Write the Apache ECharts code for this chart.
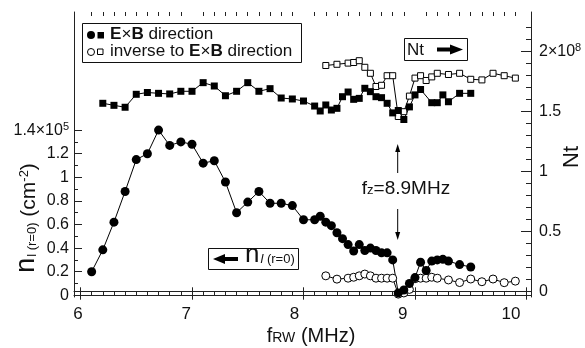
<!DOCTYPE html>
<html>
<head>
<meta charset="utf-8">
<script src="https://cdn.jsdelivr.net/npm/echarts@6/dist/echarts.min.js"></script>
<style>
  html, body { margin: 0; padding: 0; background: #fff; }
  #chart { width: 585px; height: 348px; }
</style>
</head>
<body>
<div id="chart"></div>
<script>
// line density n_l(r=0), x10^5 cm^-2, E x B direction (filled circles)
const FREQ_N_EXB = [6.1, 6.2, 6.3, 6.4, 6.5, 6.6, 6.7, 6.8, 6.9, 7.0, 7.1, 7.2, 7.3, 7.4, 7.5, 7.6, 7.7, 7.8, 7.9,
  8.0, 8.1, 8.15, 8.2, 8.25, 8.3, 8.35, 8.4, 8.45, 8.5, 8.55, 8.6, 8.65, 8.7, 8.75, 8.8, 8.85, 8.9, 8.95,
  9.0, 9.05, 9.1, 9.15, 9.2, 9.25, 9.3, 9.4, 9.5];
const N_EXB = [0.20, 0.385, 0.62, 0.88, 1.15, 1.20, 1.40, 1.27, 1.30, 1.28, 1.12, 1.14, 0.96, 0.70, 0.79, 0.88, 0.78, 0.78, 0.76,
  0.64, 0.64, 0.67, 0.62, 0.59, 0.53, 0.48, 0.43, 0.375, 0.43, 0.38, 0.40, 0.38, 0.36, 0.36, 0.30, 0.02, 0.045, 0.10,
  0.15, 0.28, 0.21, 0.29, 0.30, 0.305, 0.29, 0.26, 0.24];

// inverse direction (open circles)
const FREQ_N_INV = [8.2, 8.3, 8.4, 8.45, 8.5, 8.55, 8.6, 8.65, 8.7, 8.75, 8.8, 8.85, 8.9, 8.95,
  9.0, 9.05, 9.1, 9.15, 9.2, 9.3, 9.4, 9.5, 9.6, 9.7, 9.8, 9.9];
const N_INV = [0.165, 0.137, 0.145, 0.153, 0.165, 0.18, 0.165, 0.145, 0.145, 0.145, 0.145, 0.01, 0.02, 0.05,
  0.14, 0.145, 0.145, 0.153, 0.145, 0.13, 0.108, 0.138, 0.115, 0.138, 0.107, 0.12];

// total number Nt, x10^8, E x B direction (filled squares)
const FREQ_NT_EXB = [6.2, 6.3, 6.4, 6.5, 6.6, 6.7, 6.8, 6.9, 7.0, 7.1, 7.2, 7.3, 7.4, 7.5, 7.6, 7.7, 7.8, 7.9,
  8.0, 8.1, 8.15, 8.2, 8.25, 8.3, 8.35, 8.4, 8.45, 8.5, 8.55, 8.6, 8.65, 8.7, 8.75, 8.8, 8.85, 8.9, 8.95,
  9.0, 9.05, 9.15, 9.2, 9.25, 9.3, 9.4, 9.5];
const NT_EXB = [1.57, 1.553, 1.537, 1.645, 1.66, 1.653, 1.648, 1.67, 1.67, 1.742, 1.714, 1.633, 1.67, 1.742, 1.67, 1.692, 1.614, 1.606,
  1.589, 1.547, 1.506, 1.556, 1.514, 1.528, 1.625, 1.664, 1.603, 1.611, 1.695, 1.667, 1.625, 1.617, 1.57, 1.49, 1.51, 1.435, 1.54,
  1.64, 1.685, 1.575, 1.575, 1.64, 1.583, 1.653, 1.653];

// inverse direction (open squares)
const FREQ_NT_INV = [8.2, 8.3, 8.4, 8.45, 8.5, 8.55, 8.6, 8.65, 8.7, 8.75, 8.8, 8.85, 8.9, 8.95,
  9.0, 9.05, 9.1, 9.15, 9.2, 9.3, 9.4, 9.5, 9.6, 9.7, 9.8, 9.9];
const NT_INV = [1.885, 1.895, 1.905, 1.91, 1.925, 1.87, 1.82, 1.71, 1.72, 1.80, 1.80, 1.46, 1.50, 1.63,
  1.78, 1.80, 1.76, 1.79, 1.82, 1.81, 1.82, 1.77, 1.765, 1.82, 1.80, 1.78];

// ticks and labels
const X_MAJOR = [6, 7, 8, 9, 10];
const X_LABELS = ['6', '7', '8', '9', '10'];
const NL_MAJOR = [0, 0.2, 0.4, 0.6, 0.8, 1, 1.2, 1.4];
const NL_LABELS = ['0', '0.2', '0.4', '0.6', '0.8', '1', '1.2', '1.4×10^5'];
const NT_MAJOR = [0, 0.5, 1, 1.5, 2];
const NT_LABELS = ['0', '0.5', '1', '1.5', '2×10^8'];

const X_MINOR = [];
for (let i = 61; i < 100; i++) if (i % 10) X_MINOR.push(i / 10);
const NL_MINOR = [];
for (let i = 1; i < 14; i += 2) NL_MINOR.push(i / 10);
const NT_MINOR = [];
for (let i = 1; i <= 22; i++) if (i % 5) NT_MINOR.push(i / 10);

const FONT = '"Liberation Sans", Arial, sans-serif';
const X_MIN = 5.9417, X_MAX = 10.0404;
const XL_MIN = 5.963, XL_MAX = 10.185;
const YL_MIN = -0.0144, YL_MAX = 2.4008;
const YR_MIN = -0.0442, YR_MAX = 2.3308;

const pairs = (xs, ys) => xs.map((x, i) => [x, ys[i]]);

function labelFor(values, labels) {
  return v => {
    const i = values.findIndex(t => Math.abs(t - v) < 1e-6);
    const s = i < 0 ? '' : labels[i];
    return '{t|' + s.replace(/\^(\d+)$/, '}{sup|$1') + '}';
  };
}

function xAxis(position, min, max, opts) {
  return Object.assign({
    type: 'value', position, min, max,
    axisLine: { show: false },
    axisTick: { show: false },
    axisLabel: { show: false },
    splitLine: { show: false }
  }, opts);
}
function yAxis(position, min, max, opts) {
  return Object.assign({
    type: 'value', position, min, max,
    axisLine: { show: false },
    axisTick: { show: false },
    axisLabel: { show: false },
    splitLine: { show: false }
  }, opts);
}

const AXIS_LINE = { show: true, lineStyle: { color: '#222', width: 1 } };
const tick = (len, values) => ({
  show: true, inside: true, length: len, customValues: values,
  lineStyle: { color: '#222', width: 1 }
});
const richLabel = {
  t: { fontFamily: FONT, fontSize: 16, color: '#111', lineHeight: 18 },
  sup: { fontFamily: FONT, fontSize: 11, color: '#111', verticalAlign: 'top', lineHeight: 18, padding: [0, 0, 6, 0] }
};

const chart = echarts.init(document.getElementById('chart'));

const option = {
  animation: false,
  grid: { left: 74, right: 54, top: 12, bottom: 51, containLabel: false },
  xAxis: [
    xAxis('bottom', X_MIN, X_MAX, { axisLine: AXIS_LINE, axisTick: tick(8, X_MAJOR) }),
    xAxis('bottom', X_MIN, X_MAX, { axisTick: tick(4, X_MINOR) }),
    xAxis('bottom', XL_MIN, XL_MAX, {
      axisLabel: {
        show: true, customValues: X_MAJOR, margin: 9,
        fontFamily: FONT, fontSize: 17, color: '#111',
        formatter: v => X_LABELS[X_MAJOR.indexOf(Math.round(v))]
      }
    }),
    xAxis('top', X_MIN, X_MAX, { axisLine: AXIS_LINE, axisTick: tick(8, X_MAJOR) }),
    xAxis('top', X_MIN, X_MAX, { axisTick: tick(4, X_MINOR) })
  ],
  yAxis: [
    yAxis('left', YL_MIN, YL_MAX, {
      axisLine: AXIS_LINE, axisTick: tick(8, NL_MAJOR),
      axisLabel: {
        show: true, customValues: NL_MAJOR, margin: 5,
        formatter: labelFor(NL_MAJOR, NL_LABELS), rich: richLabel
      }
    }),
    yAxis('left', YL_MIN, YL_MAX, { axisTick: tick(4, NL_MINOR) }),
    yAxis('right', YR_MIN, YR_MAX, {
      axisLine: AXIS_LINE, axisTick: tick(10, NT_MAJOR),
      axisLabel: {
        show: true, customValues: NT_MAJOR, margin: 8,
        formatter: labelFor(NT_MAJOR, NT_LABELS), rich: richLabel
      }
    }),
    yAxis('right', YR_MIN, YR_MAX, { axisTick: tick(5, NT_MINOR) })
  ],
  series: [
    {
      name: 'n inverse', type: 'line', xAxisIndex: 0, yAxisIndex: 0,
      data: pairs(FREQ_N_INV, N_INV), symbol: 'circle', symbolSize: 8, showAllSymbol: true,
      lineStyle: { color: '#000', width: 1 },
      itemStyle: { color: '#fff', borderColor: '#000', borderWidth: 1 }
    },
    {
      name: 'n ExB', type: 'line', xAxisIndex: 0, yAxisIndex: 0,
      data: pairs(FREQ_N_EXB, N_EXB), symbol: 'circle', symbolSize: 9, showAllSymbol: true,
      lineStyle: { color: '#000', width: 1 },
      itemStyle: { color: '#000' }
    },
    {
      name: 'Nt inverse', type: 'line', xAxisIndex: 0, yAxisIndex: 2,
      data: pairs(FREQ_NT_INV, NT_INV), symbol: 'rect', symbolSize: 6, showAllSymbol: true,
      lineStyle: { color: '#000', width: 1 },
      itemStyle: { color: '#fff', borderColor: '#000', borderWidth: 1 }
    },
    {
      name: 'Nt ExB', type: 'line', xAxisIndex: 0, yAxisIndex: 2,
      data: pairs(FREQ_NT_EXB, NT_EXB), symbol: 'rect', symbolSize: 7, showAllSymbol: true,
      lineStyle: { color: '#000', width: 1 },
      itemStyle: { color: '#000' }
    }
  ],
  graphic: [
    // legend box
    { type: 'rect', shape: { x: 82.5, y: 23.5, width: 219, height: 39 }, style: { fill: '#fff', stroke: '#111', lineWidth: 1 } },
    { type: 'circle', shape: { cx: 91, cy: 35, r: 4 }, style: { fill: '#000' } },
    { type: 'rect', shape: { x: 97.5, y: 32, width: 6.5, height: 6.5 }, style: { fill: '#000' } },
    { type: 'circle', shape: { cx: 91, cy: 52, r: 3.5 }, style: { fill: '#fff', stroke: '#000', lineWidth: 1 } },
    { type: 'rect', shape: { x: 97.5, y: 49, width: 5.5, height: 5.5 }, style: { fill: '#fff', stroke: '#000', lineWidth: 1 } },
    {
      type: 'text', x: 110, y: 35, scaleX: 1.07,
      style: {
        text: '{b|E}{n|×}{b|B}{n| direction}', verticalAlign: 'middle',
        rich: {
          b: { fontFamily: FONT, fontSize: 16, fontWeight: 'bold', fill: '#111' },
          n: { fontFamily: FONT, fontSize: 16, fill: '#111' }
        }
      }
    },
    {
      type: 'text', x: 110, y: 52, scaleX: 1.07,
      style: {
        text: '{n|inverse to }{b|E}{n|×}{b|B}{n| direction}', verticalAlign: 'middle',
        rich: {
          b: { fontFamily: FONT, fontSize: 16, fontWeight: 'bold', fill: '#111' },
          n: { fontFamily: FONT, fontSize: 16, fill: '#111' }
        }
      }
    },
    // Nt -> box
    { type: 'rect', shape: { x: 404.5, y: 38.5, width: 63, height: 22 }, style: { fill: '#fff', stroke: '#111', lineWidth: 1 } },
    { type: 'text', x: 407, y: 50, style: { text: 'Nt', font: '17px ' + FONT, fill: '#111', verticalAlign: 'middle' } },
    { type: 'rect', shape: { x: 437, y: 47.5, width: 15, height: 4 }, style: { fill: '#000' } },
    { type: 'polygon', shape: { points: [[450, 44.5], [463, 49.5], [450, 54.5]] }, style: { fill: '#000' } },
    // <- n box
    { type: 'rect', shape: { x: 208.5, y: 248.5, width: 90, height: 21 }, style: { fill: '#fff', stroke: '#111', lineWidth: 1 } },
    { type: 'polygon', shape: { points: [[213, 259], [225, 254], [225, 264]] }, style: { fill: '#000' } },
    { type: 'rect', shape: { x: 223, y: 257, width: 15, height: 4 }, style: { fill: '#000' } },
    {
      type: 'text', x: 245, y: 268,
      style: {
        text: '{n|n}{s|l}{p| (r=0)}', verticalAlign: 'bottom',
        rich: {
          n: { fontFamily: FONT, fontSize: 26, fill: '#111', verticalAlign: 'bottom' },
          s: { fontFamily: FONT, fontSize: 13, fontStyle: 'italic', fill: '#111', verticalAlign: 'bottom', padding: [0, 0, 2, 1] },
          p: { fontFamily: FONT, fontSize: 13, fill: '#111', verticalAlign: 'bottom', padding: [0, 0, 2, 0] }
        }
      }
    },
    // fz annotation
    { type: 'line', shape: { x1: 397.7, y1: 173, x2: 397.7, y2: 150 }, style: { stroke: '#000', lineWidth: 1 } },
    { type: 'polygon', shape: { points: [[395.2, 152], [397.7, 144], [400.2, 152]] }, style: { fill: '#000' } },
    { type: 'line', shape: { x1: 397.7, y1: 209, x2: 397.7, y2: 233 }, style: { stroke: '#000', lineWidth: 1 } },
    { type: 'polygon', shape: { points: [[395.2, 232], [397.7, 240], [400.2, 232]] }, style: { fill: '#000' } },
    {
      type: 'text', x: 406, y: 198,
      style: {
        text: '{n|f}{s|z}{n|=8.9MHz}', align: 'center', verticalAlign: 'bottom',
        rich: {
          n: { fontFamily: FONT, fontSize: 19, fill: '#111', verticalAlign: 'bottom' },
          s: { fontFamily: FONT, fontSize: 13, fill: '#111', verticalAlign: 'bottom', padding: [0, 0, 1, 0] }
        }
      }
    },
    // axis titles
    {
      type: 'text', x: 311, y: 336,
      style: {
        text: '{f|f}{s|RW}{n| (MHz)}', align: 'center', verticalAlign: 'middle',
        rich: {
          f: { fontFamily: FONT, fontSize: 20, fill: '#111', verticalAlign: 'bottom' },
          s: { fontFamily: FONT, fontSize: 14, fill: '#111', verticalAlign: 'bottom', padding: [0, 0, 1, 0] },
          n: { fontFamily: FONT, fontSize: 20, fill: '#111', verticalAlign: 'bottom' }
        }
      }
    },
    {
      type: 'text', x: 27, y: 218, rotation: Math.PI / 2,
      style: {
        text: '{n|n}{s|l (r=0)}{m| (cm}{sup|-2}{m|)}', align: 'center', verticalAlign: 'middle',
        rich: {
          n: { fontFamily: FONT, fontSize: 27, fill: '#111', verticalAlign: 'bottom' },
          s: { fontFamily: FONT, fontSize: 13, fill: '#111', verticalAlign: 'bottom', padding: [0, 0, 2, 1] },
          m: { fontFamily: FONT, fontSize: 21, fill: '#111', verticalAlign: 'bottom', padding: [0, 0, 1, 0] },
          sup: { fontFamily: FONT, fontSize: 13, fill: '#111', verticalAlign: 'top', padding: [4, 0, 0, 0] }
        }
      }
    },
    {
      type: 'text', x: 572, y: 157, rotation: Math.PI / 2,
      style: { text: 'Nt', font: '22px ' + FONT, fill: '#111', align: 'center', verticalAlign: 'middle' }
    }
  ]
};

chart.setOption(option);
</script>
</body>
</html>
